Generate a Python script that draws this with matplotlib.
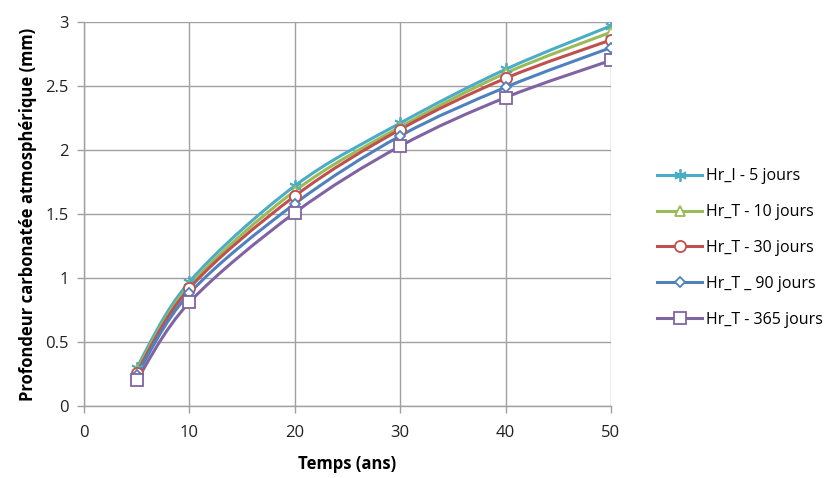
import matplotlib
matplotlib.use("Agg")
import matplotlib.pyplot as plt
from matplotlib.path import Path
from matplotlib.patches import PathPatch
from matplotlib.lines import Line2D
from matplotlib.ticker import FuncFormatter
import numpy as np

plt.rcParams['font.family'] = ['Open Sans', 'DejaVu Sans']

years = [5, 10, 20, 30, 40, 50]
labels = ["Hr_I - 5 jours", "Hr_T - 10 jours", "Hr_T - 30 jours", "Hr_T _ 90 jours", "Hr_T - 365 jours"]
s5 = [0.30, 0.97, 1.72, 2.21, 2.63, 2.97]
s10 = [0.28, 0.94, 1.68, 2.18, 2.60, 2.92]
s30 = [0.26, 0.92, 1.64, 2.16, 2.56, 2.86]
s90 = [0.24, 0.88, 1.58, 2.11, 2.49, 2.80]
s365 = [0.20, 0.81, 1.51, 2.03, 2.41, 2.70]
series = [s5, s10, s30, s90, s365]
colors = ["#4BACC6", "#9BBB59", "#C0504D", "#4F81BD", "#8064A2"]
markers = [(6, 2, 0), "^", "o", "D", "s"]
msizes = [9, 7, 8, 5, 9]

fig = plt.figure(figsize=(8.35, 4.78), dpi=100)
ax = fig.add_axes([0.1006, 0.1506, 0.6311, 0.8034])


def smooth_path(xs, ys, t=1.0 / 6):
    xs = np.asarray(xs, float)
    ys = np.asarray(ys, float)
    n = len(xs)
    verts = [(xs[0], ys[0])]
    codes = [Path.MOVETO]
    for i in range(n - 1):
        p0 = (xs[max(i - 1, 0)], ys[max(i - 1, 0)])
        p1 = (xs[i], ys[i])
        p2 = (xs[i + 1], ys[i + 1])
        p3 = (xs[min(i + 2, n - 1)], ys[min(i + 2, n - 1)])
        c1 = (p1[0] + (p2[0] - p0[0]) * t, p1[1] + (p2[1] - p0[1]) * t)
        c2 = (p2[0] - (p3[0] - p1[0]) * t, p2[1] - (p3[1] - p1[1]) * t)
        verts += [c1, c2, p2]
        codes += [Path.CURVE4] * 3
    return Path(verts, codes)


handles = []
for ys, c, m, ms, lab in zip(series, colors, markers, msizes, labels):
    patch = PathPatch(smooth_path(years, ys), facecolor='none', edgecolor=c,
                      linewidth=2.2, zorder=3, capstyle='round', joinstyle='round')
    ax.add_patch(patch)
    mfc = c if m == (6, 2, 0) else 'white'
    ax.plot(years, ys, linestyle='none', marker=m, markersize=ms,
            markerfacecolor=mfc, markeredgecolor=c, markeredgewidth=1.3, zorder=4)
    handles.append(Line2D([0], [0], color=c, linewidth=2.2, marker=m, markersize=ms,
                          markerfacecolor=mfc, markeredgecolor=c, markeredgewidth=1.3))

ax.set_xlim(0, 50)
ax.set_ylim(0, 3)
ax.set_xticks([0, 10, 20, 30, 40, 50])
ax.set_yticks([0, 0.5, 1, 1.5, 2, 2.5, 3])
ax.yaxis.set_major_formatter(FuncFormatter(lambda v, p: f"{v:g}"))
ax.grid(True, color='#A0A0A0', linewidth=1.0)
ax.set_axisbelow(True)
for s in ['top', 'right']:
    ax.spines[s].set_visible(False)
for s in ['left', 'bottom']:
    ax.spines[s].set_color('#A0A0A0')
    ax.spines[s].set_linewidth(1.0)
ax.tick_params(axis='both', colors='#A0A0A0', labelcolor='#222222', labelsize=12,
               length=5, width=1.0, direction='out')
ax.tick_params(axis='x', pad=9)
ax.tick_params(axis='y', pad=6)

ax.set_xlabel("Temps (ans)", fontsize=12, fontweight='bold', labelpad=10)
ax.set_ylabel("Profondeur carbonatée atmosphérique (mm)", fontsize=12, fontweight='bold', labelpad=6)

fig.legend(handles, labels, loc='center left', bbox_to_anchor=(0.77, 0.481),
           frameon=False, fontsize=11.5, handlelength=2.8, labelspacing=1.25,
           handletextpad=0.25)

fig.savefig("out.png", dpi=100)
